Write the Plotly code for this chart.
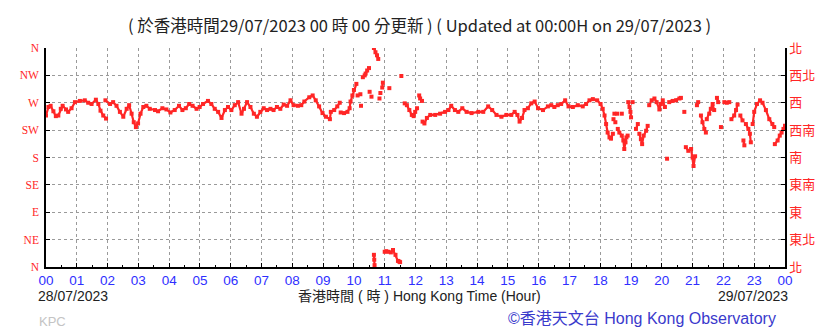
import plotly.graph_objects as go

# Time in hours since 00:00 on 28/07/2023; None separates breaks in the record
hours = [
    0.00, 0.08, 0.15, 0.24, 0.32, 0.40, 0.48, 0.54, 0.65, 0.72, 0.83, 0.94, 1.10, 1.26, 1.37, 1.48,
    1.62, 1.70, 1.77, 1.86, 1.95, None,
    1.93, 2.08, 2.18, 2.29, 2.40, 2.51, 2.62, 2.70, 2.78, 2.85, 2.92, 2.99, 3.07, 3.16, 3.26, 3.37,
    3.54, 3.64, 3.78, 3.91, 4.04, 4.18, 4.32, 4.43, 4.54, 4.65, 4.76, 4.89, 4.99, 5.10, 5.26, 5.37,
    5.48, 5.59, 5.70, 5.81, 5.91, 6.02, 6.13, 6.24, 6.35, 6.43, 6.53, 6.64, 6.75, 6.85, 6.96, 7.07,
    7.18, 7.29, 7.39, 7.50, 7.61, 7.72, 7.83, 7.94, 8.04, 8.18, 8.29, 8.39, 8.55, 8.66, 8.76, 8.87,
    8.98, 9.09, 9.22, 9.25, 9.36, 9.46, 9.54, None,
    9.57, 9.68, 9.79, 9.86, 9.89, 9.95, 10.00, 10.08, None,
    10.29, 10.35, 10.38, 10.43, 10.49, None,
    10.12, None, 10.21, None, 10.23, None, 10.51, None, 10.57, None,
    10.65, 10.70, 10.75, 10.79, None,
    10.65, 10.66, 10.67, None,
    10.83, None, 10.86, None, 10.92, 10.94, None, 11.15, None,
    11.00, 11.05, 11.12, 11.20, 11.27, 11.35, 11.43, 11.47, 11.50, None,
    11.54, None,
    11.65, 11.72, 11.80, 11.88, 11.94, 11.99, 12.05, None,
    12.12, 12.15, 12.21, None,
    12.23, 12.29, 12.37, 12.48, 12.64, 12.80, 12.96, 13.07, 13.16, 13.28, 13.39, 13.52, 13.66, 13.82,
    14.04, 14.20, 14.36, 14.49, 14.63, 14.79, 14.95, 15.11, 15.22, 15.31, 15.38, 15.46, 15.54, 15.65,
    15.76, 15.87, 15.98, 16.14, 16.30, 16.41, 16.51, 16.62, 16.73, 16.86, 16.97, 17.11, 17.27, 17.43,
    17.54, 17.65, 17.76, 17.90, 18.01, 18.08, 18.14, 18.19, 18.24, 18.30, 18.35, 18.41, None,
    18.43, None, 18.46, None, 18.49, None, 18.55, None, 18.70, None,
    18.57, 18.62, 18.70, 18.75, 18.78, 18.82, 18.85, 18.89, None,
    18.91, 18.95, 18.98, 19.00, None,
    19.05, None,
    19.16, 19.22, None,
    19.27, 19.32, 19.36, 19.41, 19.49, 19.54, None,
    19.59, 19.67, 19.76, 19.83, 19.92, 19.97, 20.03, 20.10, None,
    20.17, None,
    20.24, 20.35, 20.46, 20.57, 20.62, None,
    20.73, None,
    20.78, 20.86, 20.95, 21.00, 21.03, 21.08, None,
    21.14, 21.18, None,
    21.27, 21.32, 21.38, 21.43, None,
    21.46, 21.54, 21.59, 21.65, 21.70, None,
    21.79, 21.83, None,
    21.92, None,
    22.03, 22.11, 22.19, None,
    22.26, 22.35, 22.41, 22.46, None,
    22.55, 22.62, None,
    22.65, 22.68, None,
    22.73, 22.81, 22.86, 22.89, None,
    22.95, 23.00, 23.09, 23.19, 23.27, 23.38, 23.49, 23.59, 23.65, None,
    23.67, 23.76, 23.83, 23.89, 23.95, 24.00,
]

# Wind direction in degrees (0/360 = N, 90 = E, 180 = S, 270 = W)
dirs = [
    249, 263, 265, 256, 248, 249, 260, 265, 259, 255, 261, 271, 273, 274, 270, 268,
    275, 268, 257, 249, 244, None,
    274, 268, 271, 265, 255, 247, 260, 266, 252, 238, 230, 236, 252, 263, 265, 260,
    258, 256, 261, 259, 254, 258, 265, 258, 261, 268, 265, 260, 263, 268, 273, 268,
    260, 255, 245, 258, 263, 258, 266, 271, 252, 260, 271, 263, 252, 247, 255, 261,
    258, 260, 258, 263, 260, 267, 265, 274, 266, 265, 266, 272, 279, 282, 274, 264,
    253, 247, 243, 255, 258, 264, 270, None,
    254, 253, 255, 261, 272, 282, 291, 301, None,
    312, 315, 318, 323, 327, None,
    282, None, 284, None, 265, None, 288, None, 280, None,
    360, 353, 348, 342, None,
    20, 12, 3, None,
    277, None, 286, None, 295, 303, None, 294, None,
    25, 26, 25, 24, 28, 20, 10, 9, 8, None,
    314, None,
    269, 266, 258, 250, 248, 255, 261, None,
    282, 277, 273, None,
    239, 236, 245, 250, 250, 252, 255, 258, 265, 258, 255, 261, 255, 253,
    255, 255, 264, 258, 250, 247, 250, 250, 255, 250, 239, 245, 258, 261,
    269, 272, 261, 258, 264, 266, 263, 266, 268, 274, 264, 263, 266, 264,
    268, 274, 276, 274, 268, 260, 249, 235, 221, 213, 211, 219, None,
    243, None, 252, None, 238, None, 252, None, 252, None,
    227, 221, 216, 208, 194, 205, 213, 216, None,
    271, 263, 255, 246, None,
    271, None,
    227, 235, None,
    219, 210, 202, 216, 224, 232, None,
    266, 274, 277, 271, 259, 268, 274, 263, None,
    178, None,
    271, 273, 274, 277, 278, None,
    255, None,
    197, 191, 194, 180, 166, 182, None,
    266, 271, None,
    249, 238, 227, 221, None,
    243, 252, 260, 268, 258, None,
    278, 271, None,
    230, None,
    271, 270, 271, None,
    243, 249, 258, 267, None,
    249, 241, None,
    208, 200, None,
    235, 227, 219, 205, None,
    235, 255, 268, 274, 270, 258, 243, 235, 230, None,
    202, 208, 216, 221, 227, 232,
]

hour_ticks = list(range(25))
hour_labels = ["00", "01", "02", "03", "04", "05", "06", "07", "08", "09", "10", "11",
               "12", "13", "14", "15", "16", "17", "18", "19", "20", "21", "22", "23", "00"]
dir_ticks = [0, 45, 90, 135, 180, 225, 270, 315, 360]
dir_labels_en = ["N", "NE", "E", "SE", "S", "SW", "W", "NW", "N"]
dir_labels_zh = ["北", "東北", "東", "東南", "南", "西南", "西", "西北", "北"]

RED = "#ff2626"
BLUE = "#2f2fff"

fig = go.Figure()
fig.add_trace(go.Scatter(
    x=hours, y=dirs, mode="lines+markers", connectgaps=False,
    line=dict(color=RED, width=2.2),
    marker=dict(color=RED, size=4, symbol="square"),
    hoverinfo="skip", showlegend=False,
))
fig.add_trace(go.Scatter(x=[None], y=[None], yaxis="y2", showlegend=False, hoverinfo="skip"))

grid = dict(showgrid=True, gridcolor="#9a9a9a", griddash="dot", gridwidth=1)

# the page body adds an 8 px margin, so the figure is 8 px smaller on each dimension
fig.update_layout(
    width=830, height=323,
    margin=dict(l=38, r=53, t=40, b=64),
    paper_bgcolor="white", plot_bgcolor="white",
    xaxis=dict(
        range=[0, 24], tickvals=hour_ticks, ticktext=hour_labels,
        tickfont=dict(family="Liberation Sans, Arial", size=13.5, color=BLUE),
        ticks="inside", ticklen=4, tickcolor="black",
        showline=True, linecolor="black", linewidth=1.5,
        zeroline=False,
        minor=dict(ticks="inside", ticklen=2, dtick=0.5, tick0=0, tickcolor="black", showgrid=False),
        **grid,
    ),
    yaxis=dict(
        range=[0, 360], tickvals=dir_ticks, ticktext=dir_labels_en,
        tickfont=dict(family="Liberation Serif, serif", size=11.5, color=RED),
        ticks="inside", ticklen=4, tickcolor="black",
        showline=True, linecolor="black", linewidth=1.5,
        zeroline=False, ticklabelstandoff=3,
        **grid,
    ),
    yaxis2=dict(
        range=[0, 360], tickvals=dir_ticks, ticktext=dir_labels_zh,
        overlaying="y", side="right",
        tickfont=dict(family="Noto Sans CJK TC", size=13, color=RED),
        ticks="inside", ticklen=4, tickcolor="black",
        showline=True, linecolor="black", linewidth=1.5,
        showgrid=False, zeroline=False, ticklabelstandoff=0,
    ),
)

ann = []
ann.append(dict(text="( 於香港時間29/07/2023 00 時 00 分更新 ) ( Updated at 00:00H on 29/07/2023 )",
                xref="paper", yref="paper", x=0.506, y=1, xanchor="center", yanchor="middle",
                yshift=23, showarrow=False,
                font=dict(family="Noto Sans CJK TC", size=16.5, color="#222222")))
ann.append(dict(text="28/07/2023", xref="paper", yref="paper", x=0, y=0,
                xanchor="left", yanchor="middle", xshift=-10, yshift=-29, showarrow=False,
                font=dict(family="Liberation Sans, Arial", size=14, color="#222222")))
ann.append(dict(text="香港時間 ( 時 ) Hong Kong Time (Hour)", xref="paper", yref="paper",
                x=0.506, y=0, xanchor="center", yanchor="middle", yshift=-29, showarrow=False,
                font=dict(family="Liberation Sans, Noto Sans CJK TC", size=14, color="#222222")))
ann.append(dict(text="29/07/2023", xref="paper", yref="paper", x=1, y=0,
                xanchor="right", yanchor="middle", xshift=5, yshift=-29, showarrow=False,
                font=dict(family="Liberation Sans, Arial", size=14, color="#222222")))
ann.append(dict(text="KPC", xref="paper", yref="paper", x=0, y=0,
                xanchor="left", yanchor="middle", xshift=-9, yshift=-54, showarrow=False,
                font=dict(family="Liberation Sans, Arial", size=13, color="#c4c4c4")))
ann.append(dict(text="©香港天文台 Hong Kong Observatory", xref="paper", yref="paper", x=1, y=0,
                xanchor="right", yanchor="middle", xshift=-7, yshift=-51, showarrow=False,
                font=dict(family="Liberation Sans, Noto Sans CJK TC", size=16, color="#3a3acc")))
fig.update_layout(annotations=ann)

fig.write_html("out.html")
